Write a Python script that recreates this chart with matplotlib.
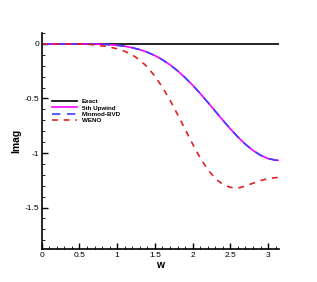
import numpy as np
import matplotlib
matplotlib.use('Agg')
import matplotlib.pyplot as plt
from matplotlib.ticker import MultipleLocator

plt.rcParams['font.family'] = ['Liberation Sans', 'DejaVu Sans']

# --- data ---
w = [0.0, 0.1, 0.2, 0.3, 0.4, 0.5, 0.6, 0.7, 0.8, 0.9, 1.0, 1.1, 1.2, 1.3,
     1.4, 1.5, 1.6, 1.7, 1.8, 1.9, 2.0, 2.1, 2.2, 2.3, 2.4, 2.5, 2.6, 2.7,
     2.8, 2.9, 3.0, 3.1, 3.1416]
exact = [0.0] * len(w)
upwind5 = [0.0, 0.0, 0.0, 0.0, -0.0001, -0.0003, -0.0007, -0.0017, -0.0037,
           -0.0072, -0.0130, -0.0218, -0.0346, -0.0524, -0.0763, -0.1070,
           -0.1454, -0.1918, -0.2464, -0.3090, -0.3787, -0.4544, -0.5345,
           -0.6169, -0.6993, -0.7791, -0.8537, -0.9204, -0.9769, -1.0209,
           -1.0507, -1.0660, -1.0667]
minmod_bvd = [0.0, 0.0, 0.0, 0.0, -0.0001, -0.0003, -0.0007, -0.0017, -0.0037,
              -0.0072, -0.0130, -0.0218, -0.0346, -0.0524, -0.0763, -0.1070,
              -0.1454, -0.1918, -0.2464, -0.3090, -0.3787, -0.4544, -0.5345,
              -0.6169, -0.6993, -0.7791, -0.8537, -0.9204, -0.9769, -1.0209,
              -1.0507, -1.0660, -1.0667]
weno = [0.0, 0.0, 0.0, 0.0, 0.0, 0.0, -0.003, -0.009, -0.017, -0.029, -0.045,
        -0.068, -0.100, -0.148, -0.212, -0.296, -0.398, -0.515, -0.647,
        -0.783, -0.918, -1.045, -1.152, -1.234, -1.287, -1.315, -1.322,
        -1.303, -1.277, -1.253, -1.235, -1.226, -1.224]

fig = plt.figure(figsize=(3.17, 2.82), dpi=100)
ax = fig.add_axes([0.1315, 0.117, 0.748, 0.766])

ax.plot(w, exact, color='black', lw=1.2, label='Exact')
ax.plot(w, upwind5, color='#ff00ff', lw=1.2, label='5th Upwind')
ax.plot(w, minmod_bvd, color='#4040ff', lw=1.2, ls=(0, (5, 4)), label='Minmod-BVD')
ax.plot(w, weno, color='#e02020', lw=1.2, ls=(0, (3.5, 3.5)), label='WENO')

ax.set_xlim(0, np.pi)
ax.set_ylim(-1.88, 0.1)
ax.xaxis.set_minor_locator(MultipleLocator(0.1))
ax.yaxis.set_minor_locator(MultipleLocator(0.1))
ax.set_xticks([0, 0.5, 1, 1.5, 2, 2.5, 3])
ax.set_xticklabels(['0', '0.5', '1', '1.5', '2', '2.5', '3'])
ax.set_yticks([0, -0.5, -1, -1.5])
ax.set_yticklabels(['0', '-0.5', '-1', '-1.5'])
ax.tick_params(which='major', direction='in', length=4, width=1, labelsize=6, pad=2)
ax.tick_params(which='minor', direction='in', length=2, width=0.6)
for s in ['top', 'right']:
    ax.spines[s].set_visible(False)
for s in ['left', 'bottom']:
    ax.spines[s].set_linewidth(1.2)

ax.set_xlabel('w', fontsize=7.5, fontweight='bold', labelpad=1)
ax.set_ylabel('Imag', fontsize=7.5, fontweight='bold', labelpad=2)

ax.legend(loc='upper left', bbox_to_anchor=(0.02, 0.72), frameon=False,
          prop={'size': 4.5, 'weight': 'bold'}, handlelength=4.0,
          handletextpad=0.8, labelspacing=0.12)

fig.savefig('out.png', dpi=100)
